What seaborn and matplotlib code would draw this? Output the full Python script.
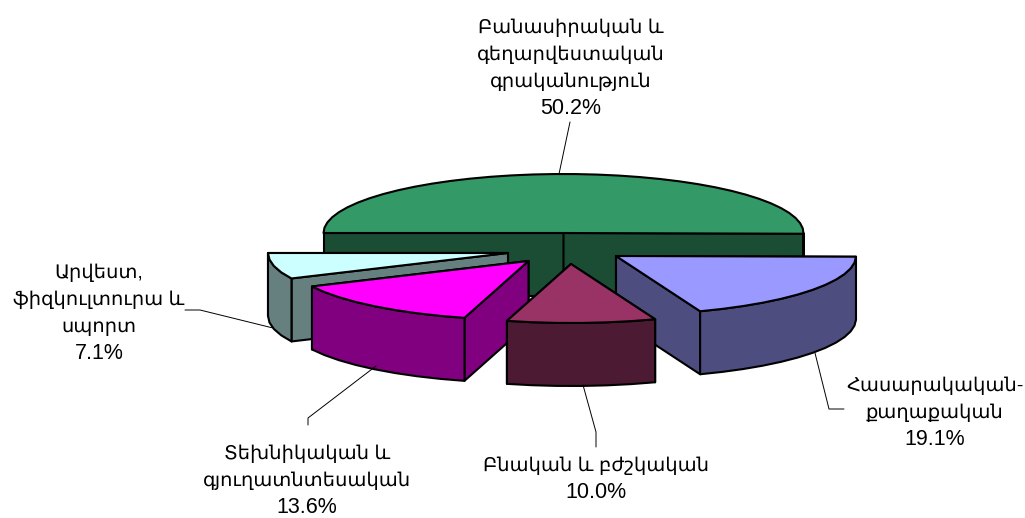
import numpy as np
import matplotlib
matplotlib.use("Agg")
import matplotlib.pyplot as plt
import seaborn as sns

# slice order: clockwise from the left edge of the pie
names = [["Բանասիրական և", "գեղարվեստական", "գրականություն"],
         ["Հասարակական-", "քաղաքական"],
         ["Բնական և բժշկական"],
         ["Տեխնիկական և", "գյուղատնտեսական"],
         ["Արվեստ,", "ֆիզկուլտուրա և", "սպորտ"]]
shares = [50.2, 19.1, 10.0, 13.6, 7.1]
top_colors = ["#339966", "#9999FF", "#993366", "#FF00FF", "#CCFFFF"]
side_colors = ["#1A4D33", "#4D4D80", "#4D1A33", "#800080", "#668080"]

sns.set_theme(style="white")
plt.rcParams['font.family'] = ['Liberation Sans', 'DejaVu Sans']

top_pal = sns.color_palette(top_colors)
side_pal = sns.color_palette(side_colors)

# where each exploded slice sits in the picture (pixels)
apex = [(563.5, 233), (616, 256), (571, 264), (528.5, 261), (508, 253)]
RX, RY, DEPTH = 240, 59, 63
draw_order = [0, 4, 1, 3, 2]

# first line baseline of each label, leader line of each slice
label_pos = [(571, 33), (935, 391), (596, 471), (307, 459), (99, 278)]
LINE_STEP = 27
leaders = [[(570, 122), (559, 174)],
           [(815, 353), (829, 409), (844, 409)],
           [(596, 447), (596, 432), (583, 385)],
           [(308, 425), (308, 418), (376, 366)],
           [(185, 310), (200, 310), (273, 328)]]

fig = plt.figure(figsize=(10.25, 5.18), dpi=100)
ax = fig.add_axes([0, 0, 1, 1])
ax.set_xlim(0, 1025)
ax.set_ylim(518, 0)
ax.axis("off")

edges = 180 - np.cumsum([0] + shares) / sum(shares) * 360


def arc(cx, cy, a0, a1):
    t = np.radians(np.linspace(a0, a1, max(int(abs(a1 - a0) / 5), 2)))
    return cx + RX * np.cos(t), cy - RY * np.sin(t)


def face(xs, ys, color):
    ax.fill(xs, ys, facecolor=color, edgecolor="black", lw=1.5, joinstyle="round")


for i in draw_order:
    cx, cy = apex[i]
    a0, a1 = edges[i], edges[i + 1]
    x, y = arc(cx, cy, a0, a1)

    # straight cut walls, the one facing the viewer goes last
    cuts = [(x[0], y[0]), (x[-1], y[-1])]
    if np.cos(np.radians((a0 + a1) / 2)) < 0:
        cuts = cuts[::-1]
    for px, py in cuts:
        face([cx, px, px, cx], [cy, py, py + DEPTH, cy + DEPTH], side_pal[i])

    # outer wall, only the part below the horizontal axis faces the viewer
    if a1 < 0:
        fx, fy = arc(cx, cy, min(a0, 0), a1)
        face(np.r_[fx, fx[::-1]], np.r_[fy, fy[::-1] + DEPTH], side_pal[i])

    face(np.r_[cx, x], np.r_[cy, y], top_pal[i])

for i in range(len(names)):
    xs, ys = zip(*leaders[i])
    ax.plot(xs, ys, color="black", lw=0.7)
    lx, ly = label_pos[i]
    for k, line in enumerate(names[i]):
        ax.text(lx, ly + k * LINE_STEP, line, ha="center", va="baseline",
                fontsize=14, color="black")
    ax.text(lx, ly + len(names[i]) * LINE_STEP, f"{shares[i]:.1f}%", ha="center",
            va="baseline", fontsize=15.5, color="black")

fig.savefig("out.png", dpi=100)
